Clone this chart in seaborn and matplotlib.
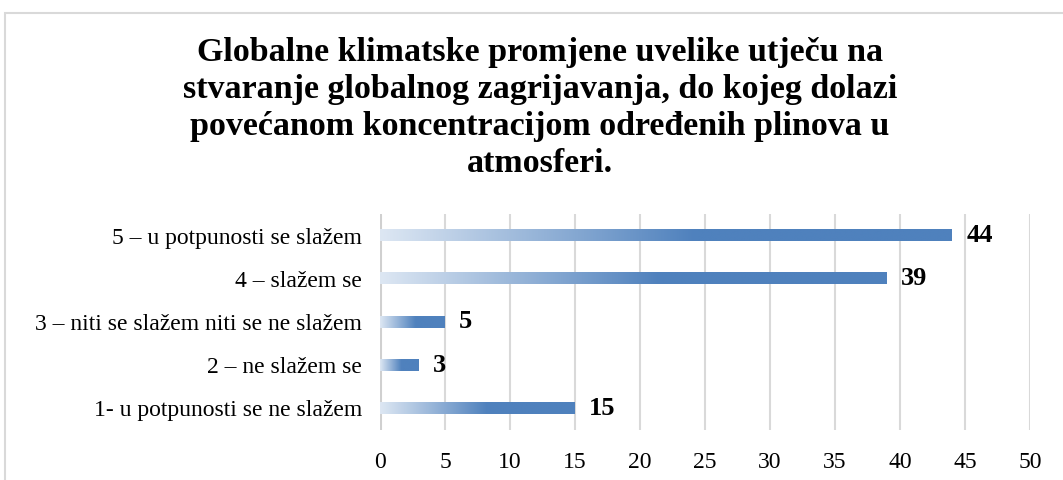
import matplotlib
matplotlib.use("Agg")
import matplotlib.pyplot as plt
import seaborn as sns
import numpy as np
import pandas as pd
from matplotlib.colors import LinearSegmentedColormap
from matplotlib.patches import Rectangle

categories = ["5 – u potpunosti se slažem", "4 – slažem se",
              "3 – niti se slažem niti se ne slažem", "2 – ne slažem se",
              "1- u potpunosti se ne slažem"]
values = [44, 39, 5, 3, 15]
xticks = [0, 5, 10, 15, 20, 25, 30, 35, 40, 45, 50]
title = ("Globalne klimatske promjene uvelike utječu na\n"
         "stvaranje globalnog zagrijavanja, do kojeg dolazi\n"
         "povećanom koncentracijom određenih plinova u\n"
         "atmosferi.")

sns.set_style("white")
plt.rcParams['font.family'] = ['Liberation Serif', 'DejaVu Serif']
plt.rcParams['text.color'] = 'black'
plt.rcParams['xtick.color'] = 'black'
plt.rcParams['ytick.color'] = 'black'

df = pd.DataFrame({"cat": categories, "val": values})

fig = plt.figure(figsize=(10.63, 4.8), dpi=100)
ax = fig.add_axes([380/1063, 1-430/480, 650/1063, 216/480])

sns.barplot(data=df, x="val", y="cat", orient="h", ax=ax, width=0.26,
            color="#4f81bd", zorder=3)

cmap = LinearSegmentedColormap.from_list("g", [(0, "#dde7f3"), (0.55, "#4f81bd"), (1, "#4f81bd")])
grad = np.linspace(0, 1, 256).reshape(1, -1)
for p in ax.patches:
    x0, y0 = p.get_x(), p.get_y()
    w, h = p.get_width(), p.get_height()
    ax.imshow(grad, cmap=cmap, aspect="auto", extent=[x0, x0 + w, y0 + h, y0],
              zorder=3, interpolation="bicubic")
    p.set_facecolor("none")
    p.set_edgecolor("none")
    ax.text(x0 + w + 1.1, y0 + h/2, f"{int(w)}", va="center", ha="left",
            fontsize=19, fontweight="bold", color="black")

ax.set_xlim(0, 50)
ax.set_ylim(4.5, -0.5)
ax.set_xticks(xticks)
ax.set_xticklabels([str(t) for t in xticks], fontsize=17)
ax.tick_params(axis="y", labelsize=17, length=0, pad=13)
ax.tick_params(axis="x", length=0, pad=16)
ax.set_xlabel("")
ax.set_ylabel("")
ax.grid(axis="x", color="#d9d9d9", linewidth=1.5, zorder=0)
ax.set_axisbelow(True)
for s in ax.spines.values():
    s.set_visible(False)
ax.axvline(0, color="#d0d0d0", linewidth=2.2, zorder=1)

fig.text(0.508, 1-108/480, title, ha="center", va="center", fontsize=24.5,
         fontweight="bold", linespacing=1.25, color="black")

fig.patches.append(Rectangle((5/1063, -0.1), 1.2, 1-13/480+0.1, transform=fig.transFigure,
                             fill=False, edgecolor="#d9d9d9", linewidth=1.5))

fig.savefig("out.png", dpi=100)
